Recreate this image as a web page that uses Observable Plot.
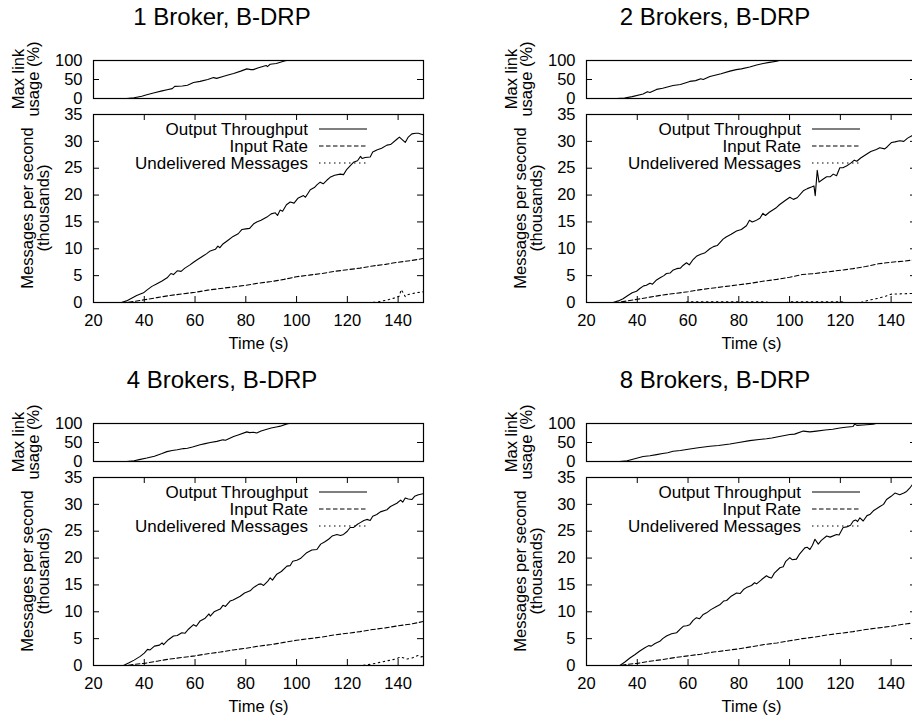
<!DOCTYPE html>
<html><head><meta charset="utf-8">
<script src="https://cdn.jsdelivr.net/npm/d3@7"></script>
<script src="https://cdn.jsdelivr.net/npm/@observablehq/plot@0.6"></script>
<style>
html,body{margin:0;padding:0;background:#fff;width:912px;height:722px;overflow:hidden;}
.panel{position:absolute;width:460px;height:362px;}
.title{position:absolute;left:0;width:444px;top:3px;text-align:center;font-family:"Liberation Sans",Arial,Helvetica,sans-serif;font-size:24px;line-height:28px;color:#000;}
.p{position:absolute;left:0;}
</style></head><body>
<script>
// ---------- data: [time (s), value] ----------
const titles = ["1 Broker, B-DRP", "2 Brokers, B-DRP", "4 Brokers, B-DRP", "8 Brokers, B-DRP"];
const seriesNames = ["Output Throughput", "Input Rate", "Undelivered Messages"];
const usageLabel = ["Max link", "usage (%)"];
const rateLabel = ["Messages per second", "(thousands)"];
const timeLabel = "Time (s)";
const xTicks = [20, 40, 60, 80, 100, 120, 140];
const yTicks = [0, 5, 10, 15, 20, 25, 30, 35];
const usageTicks = [0, 50, 100];

const b1Usage = [[20,0],[33,0],[36,2],[39,6],[41,10],[44,15],[47,20],[49,23],[51,26],[52,32],[55,33],[57,35],[59.4,42],[62,45],[65,50],[67.3,55],[68.5,53],[71,58],[73,62],[75.2,66],[78,72],[80.4,78],[82,76],[83,76],[85,81],[87,85],[88,87],[88.5,84],[89.6,90],[92,92],[94.9,98],[96,100],[150,100]];
const b1Output = [[20,0],[31,0],[33,0.3],[35,0.8],[37,1.3],[39.7,1.8],[41,2.3],[43,3.0],[45,3.5],[47,4.0],[49,4.6],[50.5,5.4],[51.5,5.2],[53,5.9],[54.5,5.8],[56,6.4],[58,7.0],[59.4,7.5],[61,8.0],[63,8.6],[64.6,9.1],[66,9.6],[68,9.9],[69,10.5],[69.8,10.2],[71,10.9],[73,11.6],[75,12.3],[77,12.8],[78.5,13.6],[80,13.7],[81.5,13.8],[83,14.6],[84.3,15.0],[86,15.3],[88.3,15.9],[90,16.5],[91.6,16.7],[92.5,16.2],[93.5,17.2],[94.5,17.0],[96,18.2],[97.5,18.7],[99,18.5],[100.5,19.4],[102.7,19.9],[103.5,19.6],[105.4,21.0],[107,21.4],[108,21.9],[109.3,22.4],[110.5,22.1],[112,22.8],[113.2,23.3],[115,23.7],[117.2,23.9],[118.5,23.8],[119.8,24.8],[121,25.4],[122.4,26.1],[124,26.4],[125.2,27.2],[125.8,26.8],[127,27.0],[129,27.1],[130,28.0],[131.6,28.4],[133.5,28.7],[135.6,29.3],[137,29.4],[139.5,30.4],[140.5,30.8],[142.8,29.8],[144,30.8],[145.4,31.4],[147,31.5],[148,31.5],[150,31.2]];
const b1Input = [[20,0],[33,0],[36,0.2],[40,0.5],[45,0.9],[50,1.3],[55,1.6],[60,1.9],[65,2.3],[70,2.6],[75,2.9],[80,3.2],[85,3.6],[90,3.9],[95,4.3],[100,4.8],[105,5.1],[110,5.4],[115,5.8],[120,6.1],[125,6.4],[130,6.8],[135,7.1],[140,7.5],[145,7.8],[150,8.2]];
const b1Undelivered = [[20,0],[130,0],[133,0.2],[136,0.5],[139,0.9],[140.5,1.2],[141.2,2.4],[142,1.8],[142.8,1.1],[144,1.5],[147,1.8],[150,2.0]];

const b2Usage = [[20,0],[32,0],[35,1],[38,5],[42.3,12],[44,18],[45,16],[47.6,24],[50,27],[54.1,34],[57,37],[60.7,45],[63,47],[65,52],[66,50],[68.6,58],[71,62],[73,65],[76.5,72],[79,76],[81,78],[84.3,83],[87,88],[89.6,92],[92,95],[94.9,98],[96,100],[150,100]];
const b2Output = [[20,0],[30.5,0],[32.5,0.3],[34.4,0.7],[36,1.2],[38,1.8],[39.7,2.1],[41,2.6],[42.5,3.1],[43.6,3.2],[45,3.6],[46,3.4],[47.6,4.2],[49,4.6],[50.5,5.0],[51.5,5.4],[53,5.5],[54,6.0],[55.5,6.3],[57,6.4],[58,6.9],[59.4,7.4],[60.5,7.0],[62,8.0],[63.3,8.6],[65,9.0],[66.5,9.2],[68.6,10.0],[70,10.4],[71.5,10.6],[73.8,11.8],[75,12.2],[77,12.7],[79.1,13.3],[81,13.6],[83,14.3],[84.2,15.3],[85.3,15.0],[86.5,15.2],[88.3,15.7],[89.5,16.6],[90.5,16.2],[92,16.8],[94.9,17.7],[96,18.2],[98,18.9],[100.1,19.6],[101.5,19.2],[103,19.5],[105.4,20.8],[107,21.2],[108.6,21.5],[109.6,21.7],[110.1,19.9],[110.9,24.6],[111.6,22.4],[113,22.9],[114.6,23.4],[116,23.4],[117.2,23.9],[118.5,23.6],[119.8,25.1],[121,25.1],[122.4,25.4],[124,25.9],[125.5,26.5],[126.5,26.3],[128,26.9],[130.3,27.6],[132,28.1],[134.2,28.5],[135.5,28.8],[137.5,28.6],[138.5,29.0],[140.2,29.8],[141.5,29.9],[143.4,30.1],[145,30.0],[146.5,30.6],[148,31.0],[150,31.6]];
const b2Input = [[20,0],[32,0],[36,0.3],[40,0.6],[45,1.0],[50,1.4],[55,1.7],[60,2.0],[65,2.4],[70,2.7],[75,3.0],[80,3.3],[85,3.6],[90,4.0],[95,4.3],[100,4.7],[105,5.2],[110,5.4],[115,5.7],[120,6.0],[125,6.3],[130,6.7],[135,7.2],[140,7.5],[145,7.7],[150,8.0]];
const b2Undelivered = [[20,0],[58,0],[60,0.15],[90,0.15],[92,0],[99,0],[101,0.15],[120,0.15],[122,0],[128,0],[131,0.4],[135,0.8],[138,1.2],[140,1.55],[143,1.6],[146,1.65],[150,1.7]];

const b4Usage = [[20,0],[33,0],[36,2],[38,5],[41,9],[44,14],[47,21],[48.9,26],[51,29],[53,31],[55.5,34],[57,35],[59,38],[62,44],[64,47],[66,50],[68.6,53],[71,57],[72,56],[75.2,66],[77,70],[80.4,78],[81.5,76],[83,77],[84.3,75],[86,80],[88.3,85],[90,88],[92,91],[93.6,93],[96.2,99],[97,100],[150,100]];
const b4Output = [[20,0],[31.8,0],[34,0.5],[36,1.0],[38.4,1.7],[40,2.3],[41.3,3.0],[42.3,2.9],[44,3.6],[46,3.8],[47,4.2],[47.6,3.9],[49.5,4.8],[51.5,5.5],[53,5.6],[54.8,6.1],[56,6.0],[57.5,6.8],[59.4,7.6],[60.5,7.3],[62,8.3],[64,8.8],[65.5,9.6],[66,9.2],[67.5,10.0],[69.9,10.5],[71,11.2],[72,11.0],[73.8,12.0],[75,12.2],[77.8,12.9],[79.5,13.5],[81.7,13.9],[83,14.5],[85,15.1],[86,15.2],[87,14.9],[88.5,15.6],[89.6,16.3],[90.5,15.9],[92.2,17.0],[94,17.5],[96.2,18.5],[97.5,18.6],[98.5,19.4],[100.1,19.6],[101.5,19.9],[104,21.0],[106,21.5],[108,21.6],[109.5,22.6],[111,23.0],[112.6,23.5],[114,24.1],[115.9,24.4],[117.3,24.2],[118.5,24.4],[120,25.0],[121.1,25.7],[122.5,25.7],[124,26.3],[125.1,26.6],[126.5,27.0],[127.7,27.2],[129,27.0],[130,27.8],[131.6,28.1],[133,28.6],[135.6,29.0],[137,29.6],[139.5,30.2],[141,30.8],[141.8,30.4],[142.8,31.2],[144,31.0],[145.4,30.9],[146.5,31.5],[148,31.8],[150,32.0]];
const b4Input = [[20,0],[33,0],[36,0.2],[40,0.4],[45,0.8],[50,1.2],[55,1.5],[60,1.8],[65,2.2],[70,2.5],[75,2.9],[80,3.2],[85,3.6],[90,3.9],[95,4.3],[100,4.7],[105,5.0],[110,5.3],[115,5.7],[120,6.0],[125,6.3],[130,6.7],[135,7.0],[140,7.4],[145,7.7],[150,8.2]];
const b4Undelivered = [[20,0],[126,0],[130,0.3],[134,0.7],[137,1.0],[139,1.2],[141,1.6],[142.3,1.4],[143.5,1.2],[145.5,1.4],[148,1.9],[149,1.6],[150,1.7]];

const b8Usage = [[20,0],[33,0],[36,2],[39,7],[42.3,13],[45,15],[47.6,18],[50,21],[52,23],[54.1,27],[57,29],[60.7,33],[64,36],[68.6,40],[72,42],[76.5,46],[80,50],[84.3,55],[88,58],[90.9,60],[93,62],[96,66],[100.1,71],[102,72],[105.4,80],[108,78],[110.6,80],[114,83],[117,85],[119.8,88],[122,90],[125,92],[125.7,99],[126.5,95],[129,96],[132.9,98],[134,100],[150,100]];
const b8Output = [[20,0],[33.1,0],[35,0.6],[37.1,1.4],[39,2.0],[41,2.7],[43,3.3],[44.5,3.7],[45.5,3.6],[47,4.1],[48.9,4.5],[50,5.0],[51.5,5.5],[53.5,5.9],[55.5,6.1],[57,6.8],[58.1,7.3],[59.5,7.4],[60.7,7.6],[62,8.4],[63.3,8.9],[64.5,8.7],[66,9.5],[67.3,9.8],[69,10.4],[71.2,11.0],[72.5,11.3],[74,12.0],[75.2,12.1],[77,12.9],[79.1,13.5],[80.5,13.4],[82,14.2],[83,14.5],[85,14.9],[86.2,15.4],[87,15.2],[89,16.0],[90.9,16.7],[92,16.4],[92.9,16.3],[94,17.2],[96.2,18.2],[97.5,18.4],[98.5,19.4],[100.1,20.1],[101,19.7],[102.7,19.8],[104,20.8],[106,21.9],[107,22.0],[108,21.6],[109,22.4],[110,23.5],[111.3,22.6],[112.5,23.3],[114.6,24.1],[116,23.9],[118.5,24.4],[119.5,24.3],[121.1,25.7],[122.5,25.8],[124,26.1],[125.1,26.9],[126,27.1],[126.8,26.8],[127.7,27.5],[129,26.9],[130.5,27.9],[131.6,28.1],[133,28.8],[135.6,29.6],[137,30.0],[138.2,30.9],[140,31.5],[141.5,32.1],[143.4,31.8],[145,32.1],[146.1,32.4],[147.3,33.0],[148.4,33.7],[150,34.0]];
const b8Input = [[20,0],[33,0],[36,0.2],[40,0.4],[45,0.8],[50,1.1],[55,1.5],[60,1.8],[65,2.1],[70,2.5],[75,2.8],[80,3.1],[85,3.5],[90,3.9],[95,4.2],[100,4.6],[105,5.0],[110,5.3],[115,5.7],[120,6.0],[125,6.3],[130,6.7],[135,7.0],[140,7.3],[145,7.7],[150,8.0]];
const b8Undelivered = [[20,0],[60,0],[100,0],[150,0]];

// ---------- layout ----------
const FONT = '"Liberation Sans", Arial, Helvetica, sans-serif';
const FL = 93, FW = 330, TOPH = 38, BOTH = 188, TICK = 6;
const dashes = [null, "4.5,2.5", "1.5,3.5"];
const panels = [
  {title: titles[0], usage: b1Usage, series: [b1Output, b1Input, b1Undelivered], left: 0, top: 0},
  {title: titles[1], usage: b2Usage, series: [b2Output, b2Input, b2Undelivered], left: 493, top: 0},
  {title: titles[2], usage: b4Usage, series: [b4Output, b4Input, b4Undelivered], left: 0, top: 363},
  {title: titles[3], usage: b8Usage, series: [b8Output, b8Input, b8Undelivered], left: 493, top: 363}
];
const style = {fontFamily: FONT, fontSize: "16.5px", overflow: "visible", background: "transparent", maxWidth: "none", color: "black"};

// legend drawn inside the frame, top-right (gnuplot style)
function legendMark(names) {
  return (index, scales, values, dimensions) => {
    const right = dimensions.width - dimensions.marginRight;
    const g = d3.create("svg:g").attr("font-size", 17).attr("fill", "black");
    names.forEach((name, i) => {
      const y = dimensions.marginTop + 15 + i * 17;
      g.append("text").attr("x", right - 115).attr("y", y).attr("dy", "0.35em")
        .attr("text-anchor", "end").text(name);
      g.append("line").attr("x1", right - 104).attr("x2", right - 56)
        .attr("y1", y).attr("y2", y).attr("stroke", "black").attr("stroke-width", 1.1)
        .attr("stroke-dasharray", dashes[i]);
    });
    return g.node();
  };
}

// rotated two-line y-axis label, centred on the frame
function yLabelMark(lines, offset, lineGap) {
  return (index, scales, values, dimensions) => {
    const {marginLeft, marginTop, marginBottom, height} = dimensions;
    const cy = (marginTop + height - marginBottom) / 2;
    const cx = marginLeft - offset;
    const t = d3.create("svg:text")
      .attr("transform", `translate(${cx},${cy}) rotate(-90)`)
      .attr("text-anchor", "middle").attr("font-size", 16.5).attr("fill", "black");
    lines.forEach((line, i) => {
      const d = (i - (lines.length - 1) / 2) * lineGap;
      t.append("tspan").attr("x", 0).attr("y", d).attr("dy", "0.35em").text(line);
    });
    return t.node();
  };
}

for (const p of panels) {
  const div = document.createElement("div");
  div.className = "panel";
  div.style.left = p.left + "px";
  div.style.top = p.top + "px";
  const t = document.createElement("div");
  t.className = "title"; t.textContent = p.title;
  div.appendChild(t);

  const top = Plot.plot({
    width: FL + FW + 10, height: 20 + TOPH + 12,
    marginLeft: FL, marginRight: 10, marginTop: 20, marginBottom: 12,
    style,
    x: {domain: [20, 150], axis: null},
    y: {domain: [0, 100]},
    marks: [
      Plot.axisY(usageTicks, {tickSize: 0, tickPadding: 11, label: null}),
      Plot.ruleY(usageTicks, {insetRight: FW - TICK, stroke: "black"}),
      Plot.ruleY(usageTicks, {insetLeft: FW - TICK, stroke: "black"}),
      Plot.line(p.usage, {x: d => d[0], y: d => d[1], stroke: "black", strokeWidth: 1.1, clip: true}),
      Plot.frame({stroke: "black", strokeWidth: 1.2}),
      yLabelMark(usageLabel, 67, 15)
    ]
  });
  top.classList.add("p"); top.style.top = "40px";
  div.appendChild(top);

  const lines = p.series.map((s, i) => Plot.line(s, {
    x: d => d[0], y: d => d[1], stroke: "black", strokeWidth: 1.1,
    strokeDasharray: dashes[i] || undefined, clip: true
  }));

  const bot = Plot.plot({
    width: FL + FW + 10, height: 14 + BOTH + 60,
    marginLeft: FL, marginRight: 10, marginTop: 14, marginBottom: 60,
    style,
    x: {domain: [20, 150]},
    y: {domain: [0, 35]},
    marks: [
      Plot.axisX(xTicks, {tickSize: 0, tickPadding: 12, label: null}),
      Plot.axisY(yTicks, {tickSize: 0, tickPadding: 11, label: null}),
      Plot.ruleX(xTicks, {insetTop: BOTH - TICK, stroke: "black"}),
      Plot.ruleX(xTicks, {insetBottom: BOTH - TICK, stroke: "black"}),
      Plot.ruleY(yTicks, {insetRight: FW - TICK, stroke: "black"}),
      Plot.ruleY(yTicks, {insetLeft: FW - TICK, stroke: "black"}),
      ...lines,
      Plot.frame({stroke: "black", strokeWidth: 1.2}),
      Plot.text([timeLabel], {text: d => d, frameAnchor: "bottom", dy: 46, fontSize: 16.5}),
      yLabelMark(rateLabel, 58, 16),
      legendMark(seriesNames)
    ]
  });
  bot.classList.add("p"); bot.style.top = "100px";
  div.appendChild(bot);
  document.body.appendChild(div);
}
</script>
</body></html>
